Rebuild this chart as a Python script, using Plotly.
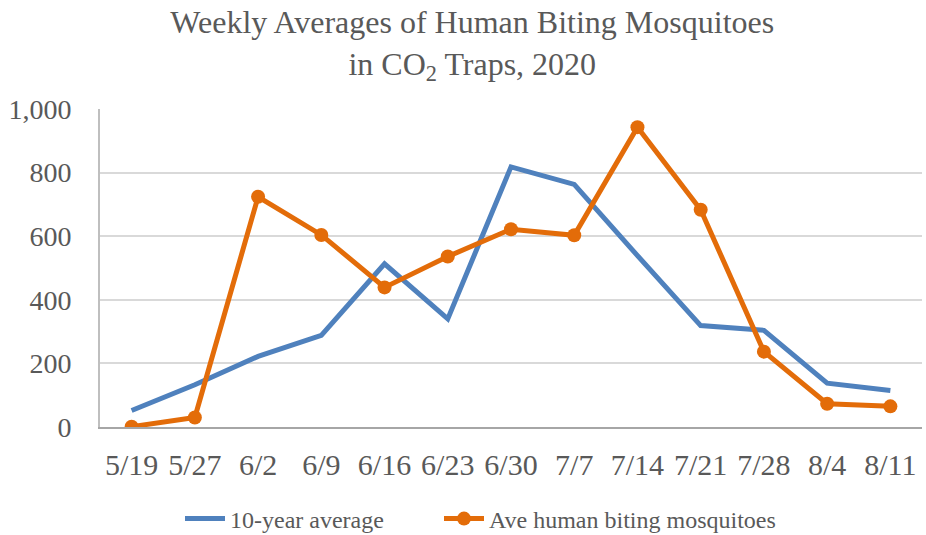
import plotly.graph_objects as go

dates = ["5/19", "5/27", "6/2", "6/9", "6/16", "6/23", "6/30", "7/7", "7/14", "7/21", "7/28", "8/4", "8/11"]
ten_year_avg = [52, 133, 222, 288, 513, 340, 818, 763, 539, 319, 304, 138, 115]
ave_biting = [1, 30, 724, 604, 439, 536, 622, 603, 943, 683, 237, 73, 65]
y_ticks = [0, 200, 400, 600, 800, 1000]
y_tick_labels = ["0", "200", "400", "600", "800", "1,000"]

FONT = "'Liberation Serif', 'Times New Roman', serif"
GRAY = "#595959"

fig = go.Figure()
fig.add_trace(go.Scatter(
    x=dates, y=ten_year_avg, mode="lines", name="10-year average",
    line=dict(color="#4F81BD", width=5), legend="legend",
))
fig.add_trace(go.Scatter(
    x=dates, y=ave_biting, mode="lines+markers", name="Ave human biting mosquitoes",
    line=dict(color="#E36C09", width=5),
    marker=dict(color="#E36C09", size=14), legend="legend2",
))

legend_common = dict(
    orientation="h", xref="container", yref="container",
    xanchor="left", y=1 - 519 / 535, yanchor="middle",
    font=dict(family=FONT, size=24, color=GRAY),
    itemwidth=40, bgcolor="rgba(0,0,0,0)",
)

fig.update_layout(
    width=926, height=535,
    margin=dict(l=100, r=4, t=109, b=108, autoexpand=False),
    paper_bgcolor="white", plot_bgcolor="white",
    font=dict(family=FONT, color=GRAY),
    title=dict(
        text="Weekly Averages of Human Biting Mosquitoes<br>in CO<sub>2</sub> Traps, 2020",
        xref="container", yref="container",
        x=0.51, xanchor="center", y=1 - 33 / 535, yanchor="middle",
        font=dict(family=FONT, size=32, color=GRAY),
    ),
    showlegend=True,
    legend=dict(legend_common, x=180 / 926),
    legend2=dict(legend_common, x=439 / 926),
    hovermode=False,
)
fig.update_xaxes(
    type="category", range=[-0.5, len(dates) - 0.5],
    showgrid=False, showline=True, linecolor="#A6A6A6", linewidth=2,
    ticks="", tickfont=dict(family=FONT, size=30, color=GRAY),
    ticklabelstandoff=10,
)
fig.update_yaxes(
    range=[0, 1000], tickvals=y_ticks, ticktext=y_tick_labels,
    showgrid=True, gridcolor="#D9D9D9", gridwidth=2,
    showline=True, linecolor="#BFBFBF", linewidth=2,
    zeroline=False, ticks="", tickfont=dict(family=FONT, size=28, color=GRAY),
    ticklabelstandoff=21,
)

fig.write_html(
    "out.html",
    config={"displayModeBar": False},
    post_script="document.body.style.margin='0';document.body.style.overflow='hidden';",
)
